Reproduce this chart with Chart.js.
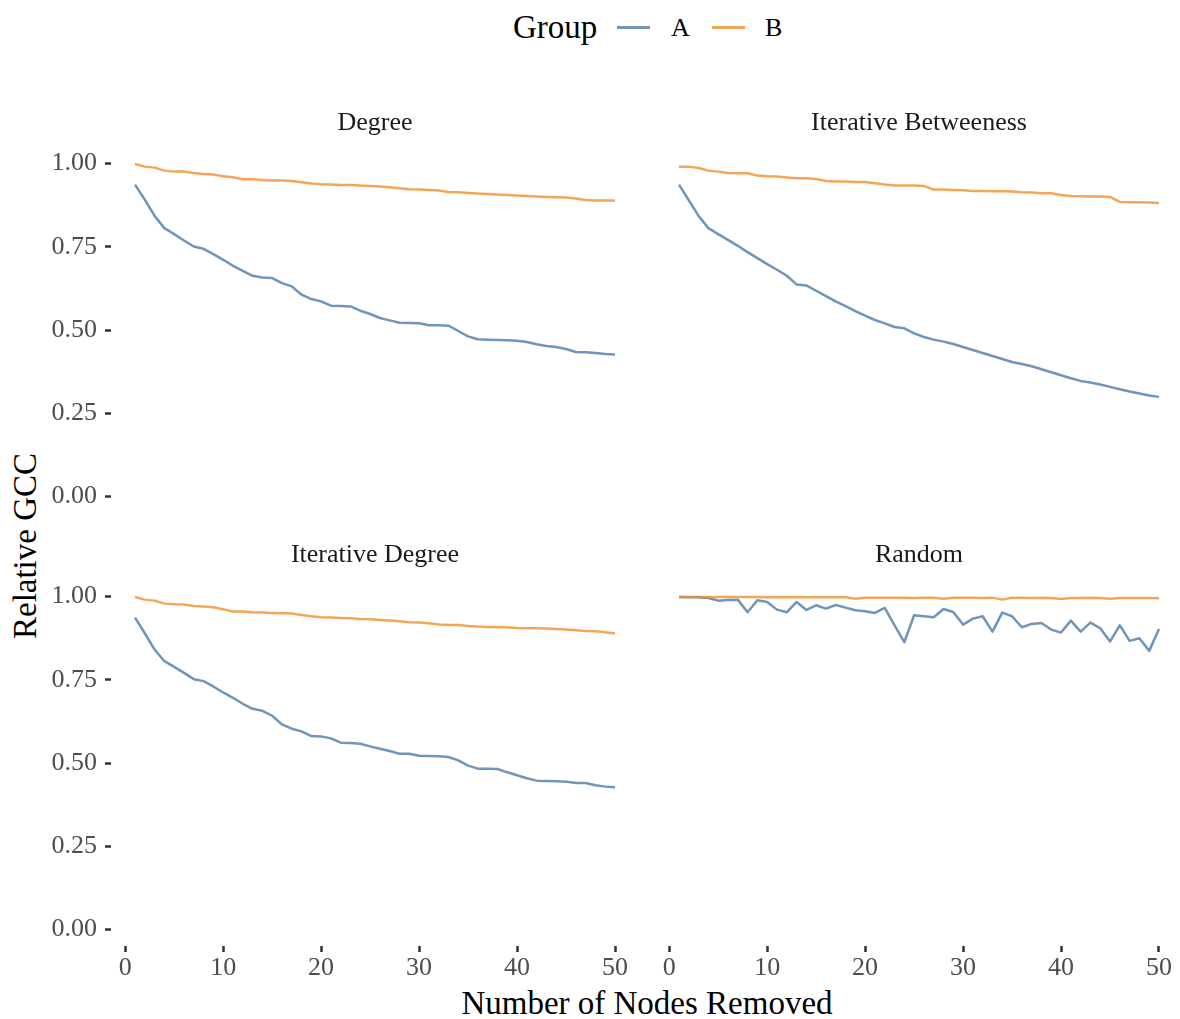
<!DOCTYPE html>
<html>
<head>
<meta charset="utf-8">
<script src="https://cdn.jsdelivr.net/npm/chart.js@4.4.1/dist/chart.umd.min.js"></script>
<style>
  html, body { margin: 0; padding: 0; background: #fff; overflow: hidden; }
  body { width: 1180px; height: 1019px; position: relative; font-family: "Liberation Serif", "Times New Roman", serif; }
  .panel { position: absolute; }
  .txt { position: absolute; white-space: nowrap; color: #000; line-height: 1; }
  .key { position: absolute; height: 3px; width: 33px; }
</style>
</head>
<body>

<div class="txt" style="left:513px; top:11px; font-size:33px;">Group</div>
<div class="key" style="left:617px; top:26px; background:rgba(78,121,167,0.8);"></div>
<div class="txt" style="left:671px; top:15px; font-size:26px;">A</div>
<div class="key" style="left:712px; top:26px; background:rgba(242,142,43,0.8);"></div>
<div class="txt" style="left:765px; top:15px; font-size:26px;">B</div>

<div class="txt" style="left:25px; top:546px; font-size:33px; transform:translate(-50%,-50%) rotate(-90deg);">Relative GCC</div>
<div class="txt" style="left:647px; top:987px; font-size:33px; transform:translateX(-50%);">Number of Nodes Removed</div>

<div class="panel" style="left:0px; top:100px; width:639px; height:413px;"><canvas id="degree"></canvas></div>
<div class="panel" style="left:655px; top:100px; width:528px; height:413px;"><canvas id="betweeness"></canvas></div>
<div class="panel" style="left:0px; top:533px; width:639px; height:458px;"><canvas id="iterDegree"></canvas></div>
<div class="panel" style="left:655px; top:533px; width:528px; height:458px;"><canvas id="random"></canvas></div>

<script>
const nodesRemoved = [1, 2, 3, 4, 5, 6, 7, 8, 9, 10, 11, 12, 13, 14, 15, 16, 17, 18, 19, 20,
  21, 22, 23, 24, 25, 26, 27, 28, 29, 30, 31, 32, 33, 34, 35, 36, 37, 38, 39, 40,
  41, 42, 43, 44, 45, 46, 47, 48, 49, 50];
const xTicks = [0, 10, 20, 30, 40, 50];
const yTicks = [0, 0.25, 0.5, 0.75, 1];

const degreeA = [0.937, 0.892, 0.843, 0.806, 0.788, 0.769, 0.751, 0.744, 0.728, 0.711,
  0.693, 0.678, 0.663, 0.658, 0.656, 0.641, 0.631, 0.606, 0.593, 0.586,
  0.573, 0.572, 0.571, 0.558, 0.548, 0.536, 0.529, 0.522, 0.521, 0.520,
  0.514, 0.514, 0.513, 0.497, 0.481, 0.472, 0.471, 0.470, 0.469, 0.468,
  0.464, 0.457, 0.452, 0.449, 0.443, 0.434, 0.433, 0.431, 0.428, 0.426];
const degreeB = [0.999, 0.991, 0.988, 0.979, 0.976, 0.976, 0.972, 0.969, 0.967, 0.962,
  0.959, 0.953, 0.953, 0.951, 0.949, 0.949, 0.948, 0.944, 0.940, 0.938,
  0.937, 0.936, 0.936, 0.934, 0.933, 0.931, 0.929, 0.926, 0.923, 0.922,
  0.921, 0.919, 0.915, 0.914, 0.912, 0.910, 0.909, 0.907, 0.906, 0.904,
  0.903, 0.901, 0.900, 0.899, 0.898, 0.895, 0.891, 0.889, 0.889, 0.889];

const betweenA = [0.937, 0.890, 0.843, 0.806, 0.788, 0.771, 0.753, 0.734, 0.716, 0.698,
  0.681, 0.663, 0.637, 0.634, 0.618, 0.602, 0.586, 0.572, 0.557, 0.543,
  0.530, 0.520, 0.509, 0.505, 0.490, 0.479, 0.471, 0.465, 0.458, 0.449,
  0.440, 0.431, 0.422, 0.413, 0.404, 0.398, 0.391, 0.382, 0.373, 0.364,
  0.355, 0.347, 0.342, 0.336, 0.329, 0.322, 0.315, 0.309, 0.303, 0.299];
const betweenB = [0.991, 0.991, 0.987, 0.979, 0.976, 0.972, 0.971, 0.971, 0.964, 0.962,
  0.961, 0.958, 0.956, 0.956, 0.954, 0.948, 0.946, 0.946, 0.945, 0.945,
  0.941, 0.937, 0.934, 0.934, 0.934, 0.933, 0.922, 0.922, 0.921, 0.920,
  0.918, 0.918, 0.917, 0.917, 0.916, 0.914, 0.913, 0.911, 0.911, 0.906,
  0.903, 0.902, 0.901, 0.901, 0.900, 0.885, 0.884, 0.884, 0.883, 0.882];

const iterDegreeA = [0.937, 0.890, 0.841, 0.806, 0.789, 0.771, 0.752, 0.746, 0.730, 0.712,
  0.696, 0.678, 0.663, 0.657, 0.642, 0.616, 0.603, 0.595, 0.581, 0.580,
  0.574, 0.561, 0.560, 0.558, 0.550, 0.543, 0.536, 0.528, 0.528, 0.522,
  0.521, 0.520, 0.518, 0.508, 0.492, 0.483, 0.483, 0.482, 0.472, 0.463,
  0.454, 0.447, 0.446, 0.445, 0.444, 0.440, 0.440, 0.433, 0.429, 0.427];
const iterDegreeB = [0.999, 0.991, 0.988, 0.979, 0.977, 0.976, 0.972, 0.970, 0.968, 0.962,
  0.955, 0.955, 0.953, 0.952, 0.951, 0.950, 0.949, 0.945, 0.941, 0.938,
  0.937, 0.936, 0.935, 0.933, 0.932, 0.930, 0.928, 0.926, 0.923, 0.922,
  0.920, 0.916, 0.915, 0.915, 0.912, 0.910, 0.909, 0.909, 0.908, 0.906,
  0.905, 0.905, 0.904, 0.903, 0.901, 0.899, 0.897, 0.896, 0.893, 0.889];

const randomA = [0.999, 0.998, 0.998, 0.996, 0.988, 0.990, 0.991, 0.953, 0.989, 0.984,
  0.961, 0.953, 0.984, 0.960, 0.974, 0.964, 0.975, 0.967, 0.959, 0.956,
  0.951, 0.966, 0.914, 0.863, 0.944, 0.941, 0.938, 0.963, 0.954, 0.916,
  0.934, 0.941, 0.895, 0.952, 0.941, 0.908, 0.918, 0.921, 0.901, 0.892,
  0.928, 0.895, 0.922, 0.905, 0.865, 0.914, 0.867, 0.875, 0.837, 0.903];
const randomB = [0.999, 0.999, 0.999, 0.999, 0.999, 0.999, 0.999, 0.999, 0.999, 0.998,
  0.998, 0.998, 0.998, 0.998, 0.998, 0.998, 0.998, 0.998, 0.994, 0.997,
  0.997, 0.997, 0.997, 0.997, 0.996, 0.997, 0.997, 0.994, 0.997, 0.997,
  0.997, 0.996, 0.997, 0.991, 0.997, 0.997, 0.996, 0.997, 0.996, 0.993,
  0.996, 0.996, 0.997, 0.996, 0.994, 0.996, 0.996, 0.996, 0.996, 0.995];

const colorA = "rgba(78, 121, 167, 0.8)";
const colorB = "rgba(242, 142, 43, 0.8)";

Chart.defaults.font.family = "'Liberation Serif', 'Times New Roman', serif";
Chart.defaults.animation = false;

function series(values, color) {
  return {
    data: values.map((v, i) => ({ x: nodesRemoved[i], y: v })),
    borderColor: color,
    borderWidth: 2.5,
    pointRadius: 0,
    tension: 0,
    borderJoinStyle: "round",
    fill: false
  };
}

// keep every panel the same size whatever its axes show
function fixBox(s, size) {
  if (s.isHorizontal()) s.height = size; else s.width = size;
  s.paddingTop = 0;
  s.paddingBottom = 0;
  s.paddingLeft = 0;
  s.paddingRight = 0;
}

function makePanel(id, title, a, b, showX, showY, titlePad) {
  new Chart(document.getElementById(id), {
    type: "line",
    data: { datasets: [series(b, colorB), series(a, colorA)] },
    options: {
      responsive: true,
      maintainAspectRatio: false,
      layout: { padding: 0 },
      plugins: {
        legend: { display: false },
        tooltip: { enabled: false },
        title: {
          display: true,
          fullSize: false,
          text: title,
          color: "#1a1a1a",
          font: { size: 26, weight: "normal" },
          padding: titlePad
        }
      },
      scales: {
        x: {
          type: "linear",
          display: showX,
          min: -1.45,
          max: 52.45,
          afterBuildTicks: s => { s.ticks = xTicks.map(v => ({ value: v })); },
          afterFit: s => fixBox(s, showX ? 45 : 0),
          border: { display: false },
          grid: { drawOnChartArea: false, drawTicks: true, tickLength: 6, tickWidth: 2.5, tickColor: "#333" },
          ticks: { color: "#4d4d4d", font: { size: 26 }, padding: 1, maxRotation: 0 }
        },
        y: {
          type: "linear",
          display: showY,
          min: -0.05,
          max: 1.05,
          afterBuildTicks: s => { s.ticks = yTicks.map(v => ({ value: v })); },
          afterFit: s => fixBox(s, showY ? 111 : 0),
          border: { display: false },
          grid: { drawOnChartArea: false, drawTicks: true, tickLength: 6, tickWidth: 2.5, tickColor: "#333" },
          ticks: { color: "#4d4d4d", font: { size: 26 }, padding: 8, callback: v => v.toFixed(2) }
        }
      }
    }
  });
}

makePanel("degree", "Degree", degreeA, degreeB, false, true, { top: 7.4, bottom: 8.4 });
makePanel("betweeness", "Iterative Betweeness", betweenA, betweenB, false, false, { top: 7.4, bottom: 8.4 });
makePanel("iterDegree", "Iterative Degree", iterDegreeA, iterDegreeB, true, true, { top: 6.4, bottom: 9.4 });
makePanel("random", "Random", randomA, randomB, true, false, { top: 6.4, bottom: 9.4 });
</script>
</body>
</html>
